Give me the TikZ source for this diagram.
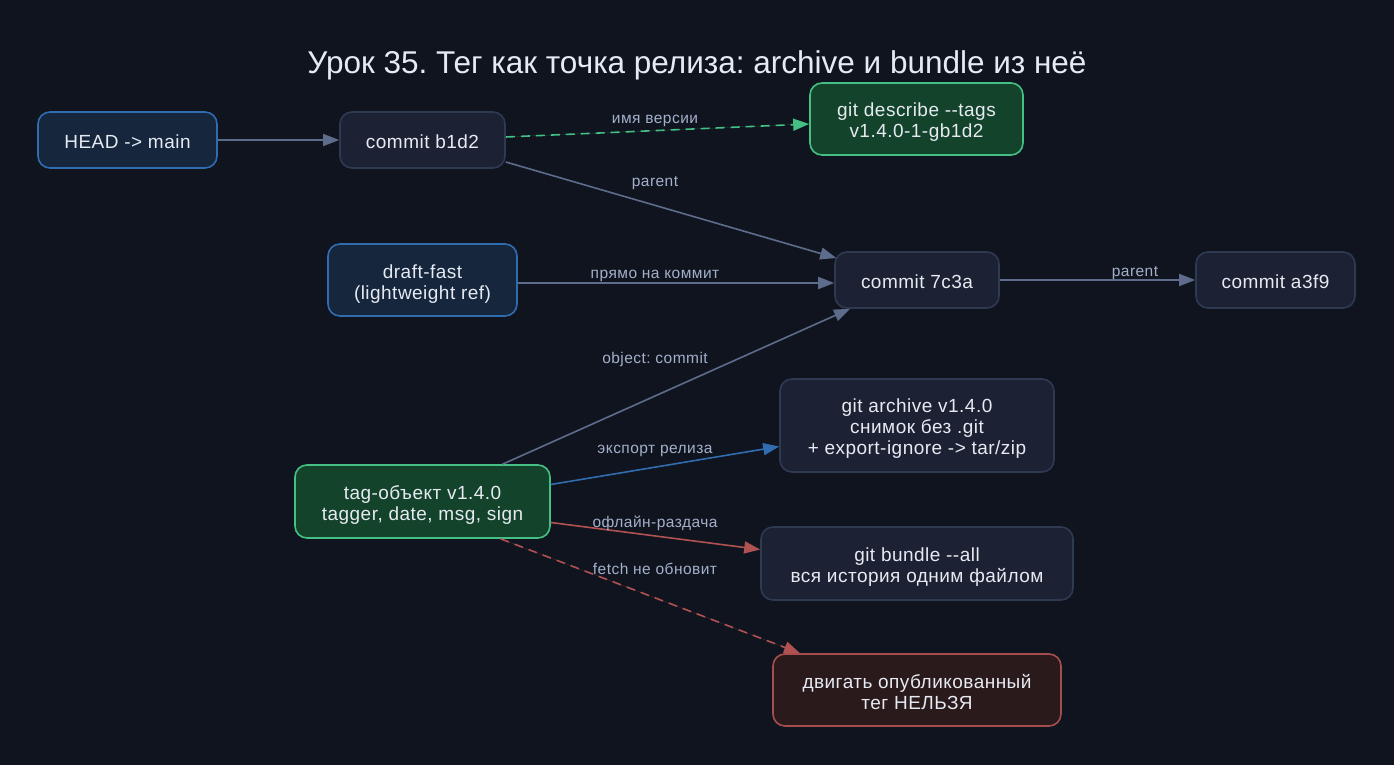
\documentclass[tikz,border=0pt]{standalone}
\usepackage{fontspec}
\setmainfont{Liberation Sans}
\newfontfamily\nodefont[LetterSpace=2.5]{Liberation Sans}
\newfontfamily\lblfont[LetterSpace=3]{Liberation Sans}
\usetikzlibrary{arrows.meta,calc}
\definecolor{bg}{HTML}{10141F}
\definecolor{txt}{HTML}{E6EAF2}
\definecolor{lbl}{HTML}{A3B0CA}
\definecolor{gfill}{HTML}{1C2233}
\definecolor{gdraw}{HTML}{2E3A52}
\definecolor{bfill}{HTML}{15263D}
\definecolor{bdraw}{HTML}{2F6DB0}
\definecolor{nfill}{HTML}{14432B}
\definecolor{ndraw}{HTML}{44C084}
\definecolor{rfill}{HTML}{2B1A1C}
\definecolor{rdraw}{HTML}{A64E4E}
\definecolor{egrey}{HTML}{5E6C8C}
\definecolor{ered}{HTML}{B05252}
\frenchspacing
\tikzset{
  box/.style={draw, line width=1.6pt, rounded corners=12pt, align=center, text=txt,
    font=\nodefont\fontsize{19}{21}\selectfont, inner sep=0pt,
    execute at begin node={\rule{0pt}{20.5pt}},
    execute at end node={\rule[-4.5pt]{0pt}{0pt}}},
  twolines/.style={execute at begin node={\rule{0pt}{42.5pt}}},
  threelines/.style={execute at begin node={\rule{0pt}{63pt}}},
  greybox/.style={box, fill=gfill, draw=gdraw},
  bluebox/.style={box, fill=bfill, draw=bdraw},
  greenbox/.style={box, fill=nfill, draw=ndraw},
  redbox/.style={box, fill=rfill, draw=rdraw},
  edge/.style={line width=1.6pt, -{Triangle[length=16pt,width=12pt]}},
  greyedge/.style={edge, draw=egrey, fill=egrey},
  lab/.style={text=lbl, font=\lblfont\fontsize{15.5}{17}\selectfont, inner sep=1pt},
  dsh/.style={dash pattern=on 9pt off 6pt}
}
\begin{document}
\begin{tikzpicture}[x=1pt,y=-1pt]
\fill[bg] (0,0) rectangle (1394,765);
\useasboundingbox (0,0) rectangle (1394,765);
\node[text=txt, font=\fontsize{31.5}{35}\selectfont, anchor=base, inner sep=0pt] (title) at (697,73.5) {Урок 35. Тег как точка релиза: archive и bundle из неё};

\node[bluebox, minimum width=179pt, minimum height=56pt] (head) at (127.5,140) {HEAD -> main};
\node[greybox, minimum width=165pt, minimum height=56pt] (b1d2) at (422.5,140) {commit b1d2};
\node[greenbox, twolines, minimum width=213pt, minimum height=72pt] (desc) at (916.5,119) {git describe --tags\\v1.4.0-1-gb1d2};
\node[bluebox, twolines, minimum width=189pt, minimum height=72pt] (draft) at (422.5,280) {draft-fast\\(lightweight ref)};
\node[greybox, minimum width=164pt, minimum height=56pt] (c7c3a) at (917,280) {commit 7c3a};
\node[greybox, minimum width=159pt, minimum height=56pt] (a3f9) at (1275.5,280) {commit a3f9};
\node[greybox, threelines, minimum width=274pt, minimum height=93pt] (archive) at (917,425.5) {git archive v1.4.0\\снимок без .git\\+ export-ignore -> tar/zip};
\node[greenbox, twolines, minimum width=255pt, minimum height=73pt] (tag) at (422.5,501.5) {tag-объект v1.4.0\\tagger, date, msg, sign};
\node[greybox, twolines, minimum width=312pt, minimum height=73pt] (bundle) at (917,563.5) {git bundle --all\\вся история одним файлом};
\node[redbox, twolines, minimum width=288pt, minimum height=72pt] (nope) at (917,690) {двигать опубликованный\\тег НЕЛЬЗЯ};

\draw[greyedge] (head.east) -- (b1d2.west);
\draw[edge, dsh, draw=ndraw, fill=ndraw] ($(b1d2.east)+(0,-3)$) -- ($(desc.west)+(0,5)$)
  node[lab] at (655,121) {имя версии};
\draw[greyedge] ($(b1d2.east)+(0,22)$) -- ($(c7c3a.west)+(2,-22)$)
  node[lab] at (655,183) {parent};
\draw[greyedge] ($(draft.east)+(0,3)$) -- ($(c7c3a.west)+(0,3)$)
  node[lab] at (655,276) {прямо на коммит};
\draw[greyedge] (c7c3a.east) -- (a3f9.west)
  node[lab] at (1135,273) {parent};
\draw[greyedge] ($(tag.north)+(80,0)$) -- ($(c7c3a.south)+(-67,0)$)
  node[lab] at (655,359) {object: commit};
\draw[edge, draw=bdraw, fill=bdraw] ($(tag.east)+(0,-17)$) -- ($(archive.west)+(0,21)$)
  node[lab] at (655,451) {экспорт релиза};
\draw[edge, draw=ered, fill=ered] ($(tag.east)+(0,21)$) -- ($(bundle.west)+(0,-14)$)
  node[lab] at (655,523) {офлайн-раздача};
\draw[edge, dsh, draw=ered, fill=ered] ($(tag.south)+(78,0)$) -- ($(nope.north)+(-117,0)$)
  node[lab] at (655,569) {fetch не обновит};
\end{tikzpicture}
\end{document}
